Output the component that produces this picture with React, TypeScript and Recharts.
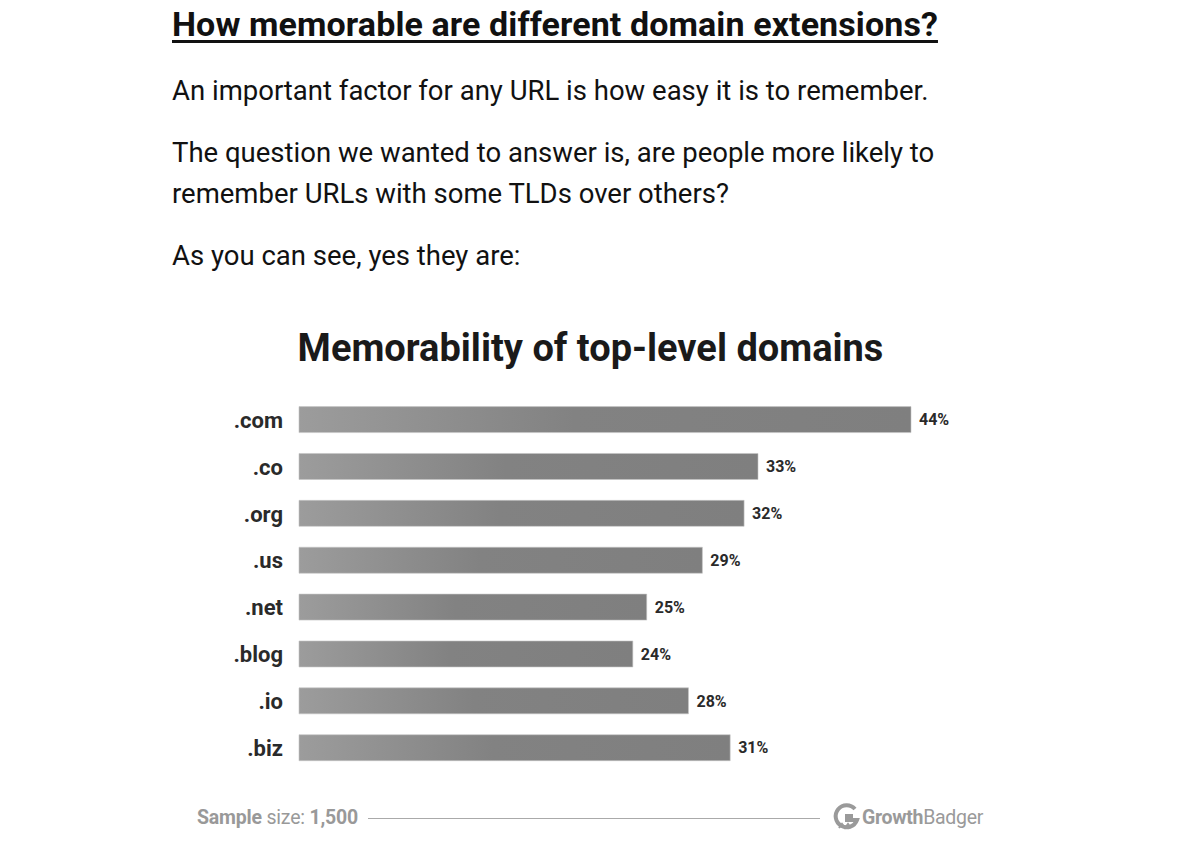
import { Bar, BarChart, LabelList, XAxis, YAxis } from 'recharts';

const domains = ['.com', '.co', '.org', '.us', '.net', '.blog', '.io', '.biz'];
const memorability = [44, 33, 32, 29, 25, 24, 28, 31];

const rows = domains.map((tld, i) => ({ tld, value: memorability[i] }));

const font = 'Roboto, "Noto Sans", sans-serif';

function GrowthBadgerLogo() {
  return (
    <div style={{ position: 'absolute', left: 832, top: 803, display: 'flex', alignItems: 'center', color: '#9a9a9a', fontFamily: font, fontSize: 19.5 }}>
      <svg width={30} height={28} viewBox="0 0 28 28">
        <path d="M22 6 A11 11 0 1 0 24 17 L14 17 L14 13 L20 13" fill="none" stroke="#9a9a9a" strokeWidth={4} />
        <path d="M6 25 L9 21 L12 25 L15 21 L18 25" fill="none" stroke="#9a9a9a" strokeWidth={2} />
      </svg>
      <span style={{ fontWeight: 700, letterSpacing: -0.3 }}>Growth</span>
      <span style={{ letterSpacing: -0.3 }}>Badger</span>
    </div>
  );
}

export default function App() {
  return (
    <div style={{ position: 'absolute', left: 0, top: 0, width: 1181, height: 857, background: '#fff', fontFamily: font, color: '#111' }}>
      <div style={{ position: 'absolute', left: 172, top: 4, fontSize: 34, fontWeight: 700, textDecoration: 'underline', textUnderlineOffset: 4, letterSpacing: 0.1 }}>
        How memorable are different domain extensions?
      </div>
      <div style={{ position: 'absolute', left: 172, top: 70, fontSize: 27.5, lineHeight: '41px' }}>
        An important factor for any URL is how easy it is to remember.
      </div>
      <div style={{ position: 'absolute', left: 172, top: 132, width: 900, fontSize: 27.5, lineHeight: '41px' }}>
        The question we wanted to answer is, are people more likely to
        <br />
        remember URLs with some TLDs over others?
      </div>
      <div style={{ position: 'absolute', left: 172, top: 235, fontSize: 27.5, lineHeight: '41px' }}>
        As you can see, yes they are:
      </div>

      <div style={{ position: 'absolute', left: 0, top: 326, width: 1181, textAlign: 'center', fontSize: 38, fontWeight: 700, color: '#1a1a1a' }}>
        Memorability of top-level domains
      </div>

      <div style={{ position: 'absolute', left: 0, top: 390 }}>
        <BarChart width={1000} height={390} data={rows} layout="vertical" margin={{ top: 6.6, right: 89, bottom: 8.4, left: 0 }} barSize={26}>
          <defs>
            <linearGradient id="barFade" x1="0" y1="0" x2="1" y2="0">
              <stop offset="0%" stopColor="#9c9c9c" />
              <stop offset="45%" stopColor="#828282" />
              <stop offset="100%" stopColor="#7f7f7f" />
            </linearGradient>
          </defs>
          <XAxis type="number" domain={[0, 44]} hide />
          <YAxis
            type="category"
            dataKey="tld"
            width={299}
            axisLine={false}
            tickLine={false}
            tickSize={0}
            tickMargin={16}
            tick={{ fill: '#2a2a2a', fontSize: 22, fontWeight: 700, fontFamily: font }}
          />
          <Bar dataKey="value" fill="url(#barFade)" stroke="#c4c4c4" strokeWidth={0.6} isAnimationActive={false}>
            <LabelList dataKey="value" position="right" offset={8} formatter={(v: any) => `${v}%`} style={{ fill: '#2a2a2a', fontSize: 16, fontWeight: 700, fontFamily: font }} />
          </Bar>
        </BarChart>
      </div>

      <div style={{ position: 'absolute', left: 197, top: 806, fontSize: 19.5, color: '#999', letterSpacing: -0.2 }}>
        <span style={{ fontWeight: 700 }}>Sample</span> size: <span style={{ fontWeight: 700 }}>1,500</span>
      </div>
      <div style={{ position: 'absolute', left: 368, top: 818, width: 452, borderTop: '1px solid #aaa' }} />
      <GrowthBadgerLogo />
    </div>
  );
}
